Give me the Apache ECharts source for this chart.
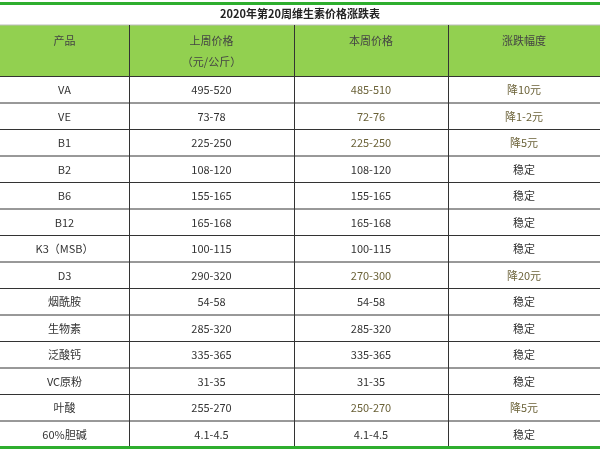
<!DOCTYPE html>
<html><head><meta charset="utf-8">
<script src="https://cdn.jsdelivr.net/npm/echarts@6/dist/echarts.min.js"></script>
<style>html,body{margin:0;padding:0;background:#fff}#c{width:600px;height:450px}</style>
</head><body><div id="c"></div>
<script>
const title = '2020年第20周维生素价格涨跌表';
const headers = ['产品', '上周价格', '本周价格', '涨跌幅度'];
const headerSub = ['', '（元/公斤）', '', ''];
const products = ['VA','VE','B1','B2','B6','B12','K3（MSB）','D3','烟酰胺','生物素','泛酸钙','VC原粉','叶酸','60%胆碱'];
const lastWeek = ['495-520','73-78','225-250','108-120','155-165','165-168','100-115','290-320','54-58','285-320','335-365','31-35','255-270','4.1-4.5'];
const thisWeek = ['485-510','72-76','225-250','108-120','155-165','165-168','100-115','270-300','54-58','285-320','335-365','31-35','250-270','4.1-4.5'];
const change = ['降10元','降1-2元','降5元','稳定','稳定','稳定','稳定','降20元','稳定','稳定','稳定','稳定','降5元','稳定'];

const colX = [0, 129, 294, 448, 600];
const top0 = 76, rowH = 26.5;
const font = '"Noto Sans CJK SC", "Noto Sans", sans-serif';
const g = [];
g.push({type:'rect', shape:{x:0,y:2,width:600,height:3}, style:{fill:'#2eae2e'}});
g.push({type:'rect', shape:{x:0,y:446,width:600,height:3}, style:{fill:'#2eae2e'}});
g.push({type:'rect', shape:{x:0,y:25,width:600,height:51}, style:{fill:'#92d050'}});
g.push({type:'line', shape:{x1:0,y1:25,x2:600,y2:25}, style:{stroke:'#bbb',lineWidth:1}});
g.push({type:'text', x:300, y:14, style:{text:title, font:'bold 11px '+font, fill:'#222', align:'center', verticalAlign:'middle'}});
headers.forEach((h,i)=>{
  const cx=(colX[i]+colX[i+1])/2;
  g.push({type:'text', x:cx, y:41, style:{text:h, font:'11px '+font, fill:'#444', align:'center', verticalAlign:'middle'}});
  if(headerSub[i]) g.push({type:'text', x:cx, y:62, style:{text:headerSub[i], font:'11px '+font, fill:'#444', align:'center', verticalAlign:'middle'}});
});
const nRows = products.length;
for(let r=0;r<nRows;r++){
  const y=top0+r*rowH;
  g.push({type:'line', shape:{x1:0,y1:y+0.5,x2:600,y2:y+0.5}, style:{stroke:'#333',lineWidth:1}});
  const vals=[products[r], lastWeek[r], thisWeek[r], change[r]];
  const changed = change[r] !== '稳定';
  vals.forEach((v,i)=>{
    const cx=(colX[i]+colX[i+1])/2;
    const col = (changed && i>=2) ? '#6b6238' : '#333';
    g.push({type:'text', x:cx, y:y+rowH/2+1, style:{text:v, font:'11px '+font, fill:col, align:'center', verticalAlign:'middle'}});
  });
}
for(let i=1;i<colX.length-1;i++){
  g.push({type:'line', shape:{x1:colX[i]+0.5,y1:25,x2:colX[i]+0.5,y2:446}, style:{stroke:'#333',lineWidth:1}});
}
const chart = echarts.init(document.getElementById('c'));
chart.setOption({animation:false, graphic:{elements:g}});
</script></body></html>
